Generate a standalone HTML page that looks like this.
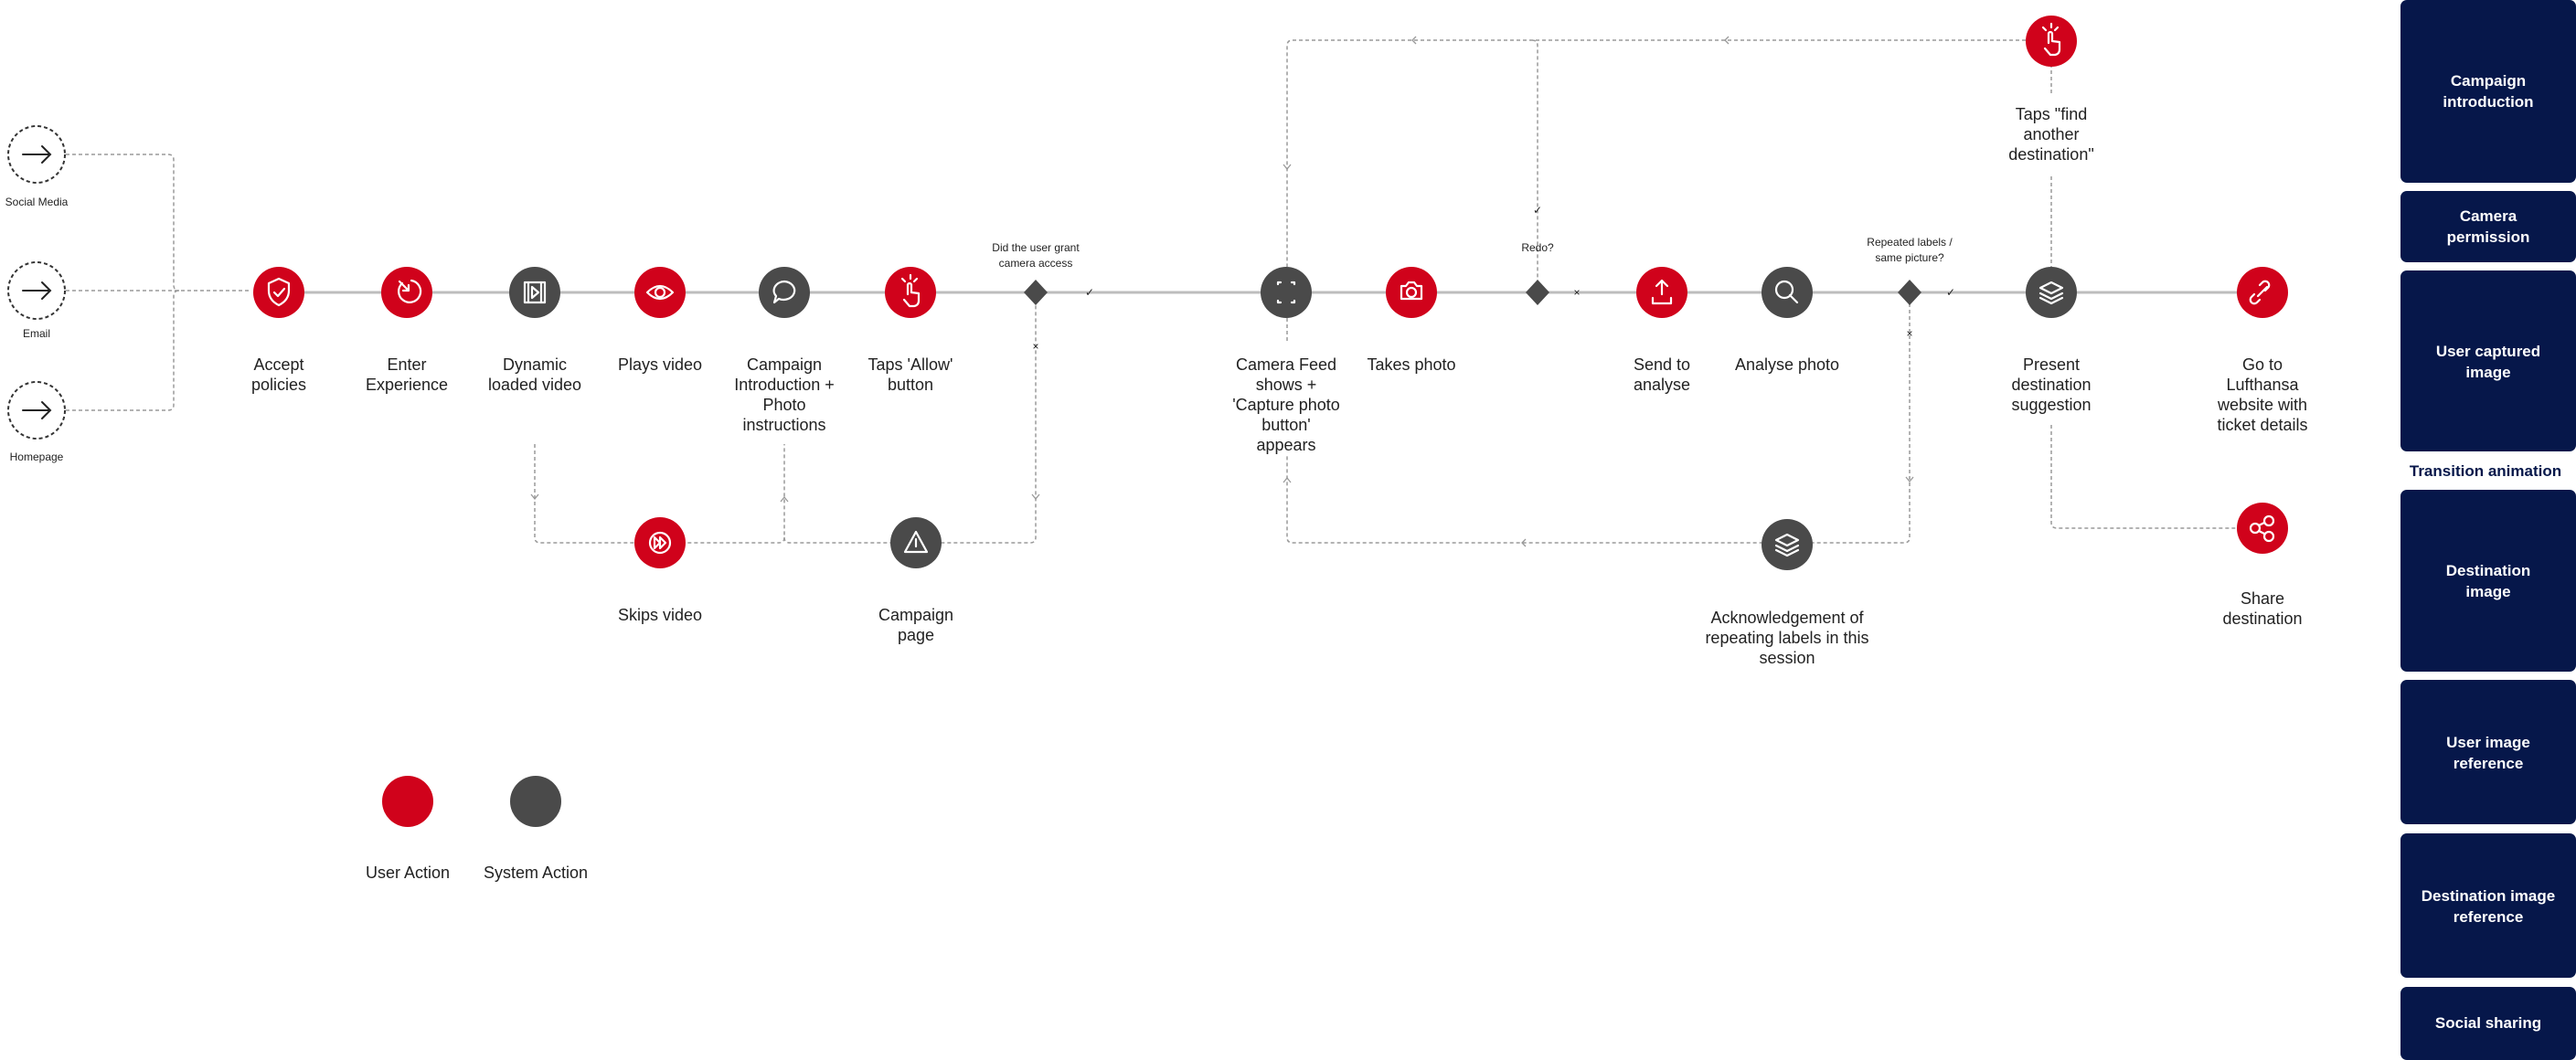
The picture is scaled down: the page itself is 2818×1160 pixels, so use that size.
<!DOCTYPE html>
<html><head><meta charset="utf-8"><style>
html,body{margin:0;padding:0;background:#fff;}
svg{display:block;}
text{font-family:"Liberation Sans",sans-serif;}
.lb{font-size:18px;fill:#222;text-anchor:middle;}
.sm{font-size:12px;fill:#222;text-anchor:middle;}
.d{fill:none;stroke:#9a9a9a;stroke-width:1.5;stroke-dasharray:4 3;}
.ic{fill:none;stroke:#fff;stroke-width:2.2;stroke-linecap:round;stroke-linejoin:round;}
.ar{fill:none;stroke:#999;stroke-width:1.3;}
.bx{fill:#06174a;}
.bt{font-size:17px;font-weight:bold;fill:#fff;text-anchor:middle;}
</style></head><body>
<svg width="2818" height="1160" viewBox="0 0 2818 1160" xmlns="http://www.w3.org/2000/svg">
<!-- entry circles -->
<g fill="none" stroke="#333" stroke-width="2" stroke-dasharray="4 3">
<circle cx="40" cy="169" r="31"/><circle cx="40" cy="318" r="31"/><circle cx="40" cy="449" r="31"/>
</g>
<g fill="none" stroke="#222" stroke-width="2" stroke-linecap="round">
<path d="M25 169h30M46 160l9 9-9 9"/><path d="M25 318h30M46 309l9 9-9 9"/><path d="M25 449h30M46 440l9 9-9 9"/>
</g>
<text class="sm" x="40" y="225">Social Media</text>
<text class="sm" x="40" y="369">Email</text>
<text class="sm" x="40" y="504">Homepage</text>
<path class="d" d="M72 169H184q6 0 6 6V312q0 6 6 6M72 318H275M72 449H184q6 0 6-6V324q0-6 6-6"/>

<!-- main line -->
<line x1="280" y1="320" x2="2475" y2="320" stroke="#bdbdbd" stroke-width="3"/>

<!-- dashed connectors lower-left -->
<path class="d" d="M585 486V588q0 6 6 6H852q6 0 6-6V486M858 588q0 6 6 6H1127q6 0 6-6V332"/>
<path class="ar" d="M581 541l4 5 4-5M854 549l4-5 4 5M1129 541l4 5 4-5"/>
<text class="sm" x="1133" y="383">×</text>

<!-- top loop -->
<path class="d" d="M2244 44H1414q-6 0-6 6V292M1676 44q6 0 6 6V308M2244 70V105M2244 193V292M1408 348V376M2089 332V588q0 6-6 6H1414q-6 0-6-6V498M2244 465V572q0 6 6 6H2475"/>
<path class="ar" d="M1549 40l-4 4 4 4M1891 40l-4 4 4 4M1404 180l4 5 4-5M2085 522l4 5 4-5M1404 528l4-5 4 5M1669 590l-4 4 4 4"/>
<text class="sm" x="1682" y="234">✓</text>
<text class="sm" x="1725" y="324">×</text>
<text class="sm" x="2089" y="369">×</text>
<text class="sm" x="2134" y="324">✓</text>
<text class="sm" x="1192" y="324">✓</text>

<!-- diamonds -->
<g fill="#4a4a4a">
<path d="M1133 306l13 14-13 14-13-14z"/><path d="M1682 306l13 14-13 14-13-14z"/><path d="M2089 306l13 14-13 14-13-14z"/>
</g>
<text class="sm" x="1133" y="275">Did the user grant</text>
<text class="sm" x="1133" y="292">camera access</text>
<text class="sm" x="1682" y="275">Redo?</text>
<text class="sm" x="2089" y="269">Repeated labels /</text>
<text class="sm" x="2089" y="286">same picture?</text>

<!-- nodes -->
<g fill="#d0021b">
<circle cx="305" cy="320" r="28"/><circle cx="445" cy="320" r="28"/><circle cx="722" cy="320" r="28"/><circle cx="996" cy="320" r="28"/>
<circle cx="1544" cy="320" r="28"/><circle cx="1818" cy="320" r="28"/><circle cx="2475" cy="320" r="28"/>
<circle cx="722" cy="594" r="28"/><circle cx="2244" cy="45" r="28"/><circle cx="2475" cy="578" r="28"/>
<circle cx="446" cy="877" r="28"/>
</g>
<g fill="#4a4a4a">
<circle cx="585" cy="320" r="28"/><circle cx="858" cy="320" r="28"/><circle cx="1407" cy="320" r="28"/><circle cx="1955" cy="320" r="28"/>
<circle cx="2244" cy="320" r="28"/><circle cx="1002" cy="594" r="28"/><circle cx="1955" cy="596" r="28"/>
<circle cx="586" cy="877" r="28"/>
</g>

<!-- icons -->
<path class="ic" d="M305 305l-11 5v8c0 8 5 13 11 16 6-3 11-8 11-16v-8zM300 320l4 4 7-8"/>
<path class="ic" d="M437 308l10 10M447 312v6h-6M440 310a12 12 0 1 0 10-3"/>
<path class="ic" d="M574 309h22v22h-22zM578 309v22M592 309v22M582 314v12l7-6z"/>
<path class="ic" d="M708 320q14-14 28 0q-14 14-28 0z"/><circle class="ic" cx="722" cy="320" r="5"/>
<path class="ic" d="M858 308a12 10 0 1 1 -6 19l-5 4 2-7a12 10 0 0 1 9-16z"/>
<path class="ic" d="M993 322v-10a2 2 0 0 1 4 0v8l8 1v8q0 5-5 6h-5l-6-7M990 308l-3-3M996 305v-4M1000 308l3-3"/>
<path class="ic" d="M1398 311v-2h3M1413 309h3v2M1416 329v2h-3M1401 331h-3v-2"/>
<path class="ic" d="M1533 313h5l3-4h6l3 4h5v14h-22z"/><circle class="ic" cx="1544" cy="320" r="5"/>
<path class="ic" d="M1818 322v-15M1812 313l6-6 6 6M1808 326v6h20v-6"/>
<circle class="ic" cx="1952" cy="317" r="9"/><path class="ic" d="M1958 323l8 8"/>
<path class="ic" d="M2244 309l12 6-12 6-12-6zM2232 321l12 6 12-6M2232 326l12 6 12-6"/>
<path class="ic" d="M1955 585l12 6-12 6-12-6zM1943 597l12 6 12-6M1943 602l12 6 12-6"/>
<path class="ic" d="M2470 324l10-10M2466 322l-3 3a4 4 0 0 0 6 6l3-3M2478 318l3-3a4 4 0 0 0-6-6l-3 3"/>
<circle class="ic" cx="722" cy="594" r="11"/><path class="ic" d="M716 588l6 6-6 6zM722 588l6 6-6 6z"/>
<path class="ic" d="M1002 582l12 22h-24zM1002 590v8"/>
<path class="ic" d="M2241 47v-10a2 2 0 0 1 4 0v8l8 1v8q0 5-5 6h-5l-6-7M2238 33l-3-3M2244 30v-4M2248 33l3-3"/>
<circle class="ic" cx="2467" cy="578" r="5"/><circle class="ic" cx="2482" cy="570" r="5"/><circle class="ic" cx="2482" cy="587" r="5"/>
<path class="ic" d="M2471 575l6-3M2471 581l6 3"/>

<!-- labels -->
<g class="lb">
<text x="305" y="405">Accept</text><text x="305" y="427">policies</text>
<text x="445" y="405">Enter</text><text x="445" y="427">Experience</text>
<text x="585" y="405">Dynamic</text><text x="585" y="427">loaded video</text>
<text x="722" y="405">Plays video</text>
<text x="858" y="405">Campaign</text><text x="858" y="427">Introduction +</text><text x="858" y="449">Photo</text><text x="858" y="471">instructions</text>
<text x="996" y="405">Taps 'Allow'</text><text x="996" y="427">button</text>
<text x="722" y="679">Skips video</text>
<text x="1002" y="679">Campaign</text><text x="1002" y="701">page</text>
<text x="1407" y="405">Camera Feed</text><text x="1407" y="427">shows +</text><text x="1407" y="449">'Capture photo</text><text x="1407" y="471">button'</text><text x="1407" y="493">appears</text>
<text x="1544" y="405">Takes photo</text>
<text x="1818" y="405">Send to</text><text x="1818" y="427">analyse</text>
<text x="1955" y="405">Analyse photo</text>
<text x="2244" y="405">Present</text><text x="2244" y="427">destination</text><text x="2244" y="449">suggestion</text>
<text x="2475" y="405">Go to</text><text x="2475" y="427">Lufthansa</text><text x="2475" y="449">website with</text><text x="2475" y="471">ticket details</text>
<text x="2244" y="131">Taps "find</text><text x="2244" y="153">another</text><text x="2244" y="175">destination"</text>
<text x="1955" y="682">Acknowledgement of</text><text x="1955" y="704">repeating labels in this</text><text x="1955" y="726">session</text>
<text x="2475" y="661">Share</text><text x="2475" y="683">destination</text>
<text x="446" y="961">User Action</text><text x="586" y="961">System Action</text>
</g>

<!-- right panel -->
<rect class="bx" x="2626" y="0" width="192" height="200" rx="7"/>
<rect class="bx" x="2626" y="209" width="192" height="78" rx="7"/>
<rect class="bx" x="2626" y="296" width="192" height="198" rx="7"/>
<rect class="bx" x="2626" y="536" width="192" height="199" rx="7"/>
<rect class="bx" x="2626" y="744" width="192" height="158" rx="7"/>
<rect class="bx" x="2626" y="912" width="192" height="158" rx="7"/>
<rect class="bx" x="2626" y="1080" width="192" height="80" rx="7"/>
<text class="bt" x="2722" y="94">Campaign</text><text class="bt" x="2722" y="117">introduction</text>
<text class="bt" x="2722" y="242">Camera</text><text class="bt" x="2722" y="265">permission</text>
<text class="bt" x="2722" y="390">User captured</text><text class="bt" x="2722" y="413">image</text>
<text x="2719" y="521" style="font-size:17px;font-weight:bold;fill:#06174a;text-anchor:middle">Transition animation</text>
<text class="bt" x="2722" y="630">Destination</text><text class="bt" x="2722" y="653">image</text>
<text class="bt" x="2722" y="818">User image</text><text class="bt" x="2722" y="841">reference</text>
<text class="bt" x="2722" y="986">Destination image</text><text class="bt" x="2722" y="1009">reference</text>
<text class="bt" x="2722" y="1125">Social sharing</text>
</svg>
</body></html>
